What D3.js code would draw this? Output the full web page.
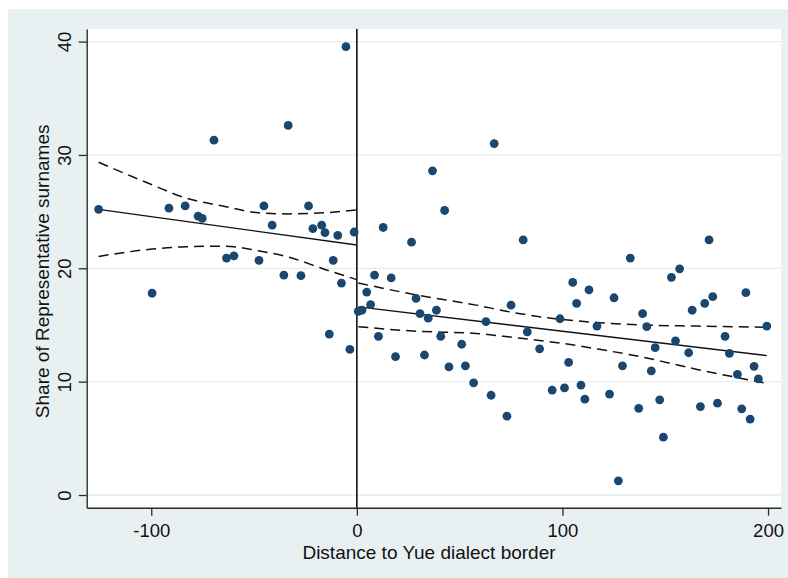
<!DOCTYPE html>
<html>
<head>
<meta charset="utf-8">
<script src="https://cdn.jsdelivr.net/npm/d3@7"></script>
<style>
  html, body { margin: 0; padding: 0; background: #ffffff; }
  svg { display: block; font-family: "Liberation Sans", Arial, sans-serif; }
</style>
</head>
<body>
<svg id="chart" width="788" height="578"></svg>
<script>
// Distance to the Yue dialect border (km) for each locality
const distance = [-125.6, -99.6, -91.4, -83.5, -77.2, -75.2, -69.5, -63.4, -59.8, -47.6,
  -45.2, -41.2, -35.5, -33.4, -27.2, -23.5, -21.4, -17.1, -15.5, -13.4,
  -11.5, -9.3, -7.5, -5.3, -3.4, -1.3, 0.7, 2.5, 4.8, 6.7,
  8.6, 10.5, 12.8, 16.7, 18.8, 26.6, 28.8, 30.7, 32.9, 34.7,
  36.8, 38.7, 40.8, 42.7, 44.8, 51.0, 52.8, 56.8, 62.8, 65.3,
  66.8, 73.0, 75.0, 80.9, 82.9, 88.9, 95.0, 98.8, 101.0, 103.0,
  105.0, 106.9, 109.0, 110.9, 112.9, 116.8, 122.9, 125.1, 127.2, 129.2,
  133.0, 137.1, 139.0, 141.0, 143.2, 145.1, 147.3, 149.1, 153.0, 155.0,
  157.0, 161.4, 163.1, 167.1, 169.2, 171.3, 173.1, 175.4, 179.1, 181.2,
  185.1, 187.2, 189.2, 191.3, 193.2, 195.3, 199.4];

// Share of representative surnames (%) at each locality
const share = [25.2, 17.8, 25.3, 25.5, 24.6, 24.4, 31.3, 20.9, 21.1, 20.7,
  25.5, 23.8, 19.4, 32.6, 19.35, 25.5, 23.5, 23.8, 23.15, 14.2,
  20.7, 22.9, 18.7, 39.55, 12.85, 23.2, 16.2, 16.3, 17.9, 16.8,
  19.4, 14.0, 23.6, 19.15, 12.2, 22.3, 17.35, 16.0, 12.35, 15.6,
  28.6, 16.3, 14.0, 25.1, 11.3, 13.3, 11.4, 9.9, 15.3, 8.8,
  31.0, 6.95, 16.75, 22.5, 14.4, 12.9, 9.25, 15.55, 9.45, 11.7,
  18.75, 16.9, 9.7, 8.45, 18.1, 14.9, 8.9, 17.4, 1.25, 11.4,
  20.9, 7.65, 16.0, 14.85, 10.95, 13.0, 8.4, 5.1, 19.2, 13.6,
  19.95, 12.55, 16.3, 7.8, 16.9, 22.5, 17.5, 8.1, 14.0, 12.5,
  10.65, 7.6, 17.85, 6.7, 11.35, 10.25, 14.9];

// Linear fit and 95% confidence band, inside the border (left side)
const leftFitX = [-125.6, 0];
const leftFit = [25.2, 22.05];
const leftCiX = [-125.6, -99.4, -83.2, -64.2, -48, -33.4, -15.5, 0];
const leftUpper = [29.35, 27.35, 26.2, 25.45, 24.9, 24.8, 24.9, 25.15];
const leftLower = [21.05, 21.7, 21.9, 21.95, 21.55, 21.0, 19.9, 19.0];

// Linear fit and 95% confidence band, outside the border (right side)
const rightFitX = [0.7, 199.4];
const rightFit = [16.6, 12.3];
const rightCiX = [0.7, 29, 58, 76, 99, 118, 138, 165, 199.4];
const rightUpper = [18.7, 17.65, 16.75, 16.1, 15.5, 15.2, 15.0, 14.9, 14.8];
const rightLower = [14.85, 14.45, 14.25, 13.9, 13.4, 12.85, 12.2, 11.1, 9.85];

// Axis ticks and titles
const xTicks = [-100, 0, 100, 200];
const yTicks = [0, 10, 20, 30, 40];
const xTitle = "Distance to Yue dialect border";
const yTitle = "Share of Representative surnames";

const svg = d3.select("#chart");
const plot = { left: 86.7, right: 781, top: 29, bottom: 507.7 };

const x = d3.scaleLinear().domain([-131.4, 206.3]).range([plot.left, plot.right]);
const y = d3.scaleLinear().domain([-1.12, 41.11]).range([plot.bottom, plot.top]);

// Graph region and plot region backgrounds
svg.append("rect").attr("x", 8).attr("y", 9).attr("width", 780).attr("height", 569)
  .attr("fill", "#e9f0f2");
svg.append("rect").attr("x", plot.left).attr("y", plot.top)
  .attr("width", plot.right - plot.left).attr("height", plot.bottom - plot.top)
  .attr("fill", "#ffffff");

// Horizontal grid lines
svg.append("g").selectAll("line").data(yTicks).join("line")
  .attr("x1", plot.left).attr("x2", plot.right)
  .attr("y1", d => y(d)).attr("y2", d => y(d))
  .attr("stroke", "#e6edf0").attr("stroke-width", 1.3);

// Confidence bands (dashed)
const curve = d3.line().x(d => x(d[0])).y(d => y(d[1])).curve(d3.curveMonotoneX);
const bands = [
  d3.zip(leftCiX, leftUpper), d3.zip(leftCiX, leftLower),
  d3.zip(rightCiX, rightUpper), d3.zip(rightCiX, rightLower)
];
svg.append("g").selectAll("path").data(bands).join("path")
  .attr("d", curve)
  .attr("fill", "none").attr("stroke", "#111").attr("stroke-width", 1.5)
  .attr("stroke-dasharray", "10,6");

// Fitted lines (solid)
const straight = d3.line().x(d => x(d[0])).y(d => y(d[1]));
svg.append("g").selectAll("path")
  .data([d3.zip(leftFitX, leftFit), d3.zip(rightFitX, rightFit)]).join("path")
  .attr("d", straight)
  .attr("fill", "none").attr("stroke", "#111").attr("stroke-width", 1.4);

// Border line at distance zero
svg.append("line")
  .attr("x1", x(0)).attr("x2", x(0)).attr("y1", plot.top).attr("y2", plot.bottom)
  .attr("stroke", "#111").attr("stroke-width", 1.6);

// Scatter points
svg.append("g").selectAll("circle").data(d3.zip(distance, share)).join("circle")
  .attr("cx", d => x(d[0])).attr("cy", d => y(d[1])).attr("r", 4.4)
  .attr("fill", "#1a476f");

// Axes (plain hyphen-minus for negative labels)
const plain = d => String(d);
const xAxis = svg.append("g").attr("transform", `translate(0,${plot.bottom})`)
  .call(d3.axisBottom(x).tickValues(xTicks).tickSize(8).tickSizeOuter(0).tickFormat(plain));
const yAxis = svg.append("g").attr("transform", `translate(${plot.left},0)`)
  .call(d3.axisLeft(y).tickValues(yTicks).tickSize(8).tickSizeOuter(0).tickFormat(plain));

[xAxis, yAxis].forEach(g => {
  g.select(".domain").attr("stroke", "#2b2b2b").attr("stroke-width", 1.4);
  g.selectAll(".tick line").attr("stroke", "#2b2b2b").attr("stroke-width", 1.3);
  g.selectAll(".tick text").attr("fill", "#111").attr("font-size", 18.5)
    .attr("font-family", "'Liberation Sans', Arial, sans-serif");
});
xAxis.selectAll(".tick text").attr("y", 29.5).attr("dy", 0);
yAxis.selectAll(".tick text")
  .attr("x", 0).attr("y", 0).attr("dy", 0)
  .attr("text-anchor", "middle")
  .attr("transform", "translate(-15.5,0) rotate(-90)");

// Axis titles
svg.append("text").attr("x", 429).attr("y", 558.5)
  .attr("text-anchor", "middle").attr("font-size", 19).attr("fill", "#111")
  .text(xTitle);
svg.append("text")
  .attr("transform", `translate(48.5,${(plot.top + plot.bottom) / 2 + 3}) rotate(-90)`)
  .attr("text-anchor", "middle").attr("font-size", 19).attr("fill", "#111")
  .text(yTitle);
</script>
</body>
</html>
